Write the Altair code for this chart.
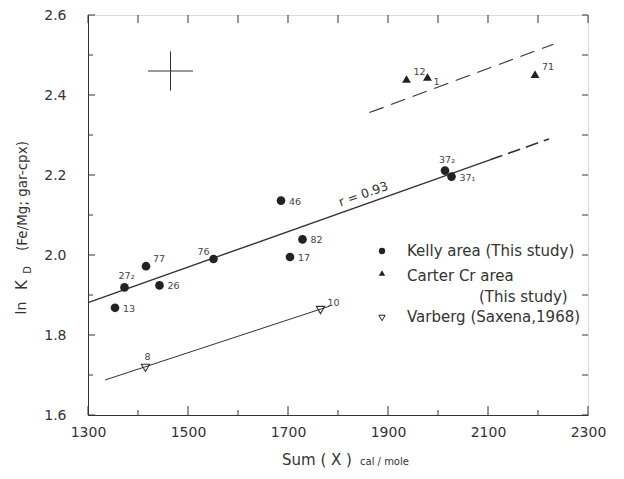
import altair as alt
import pandas as pd

# ---- data ----
kelly_x = [1354, 1373, 1416, 1443, 1551, 1686, 1729, 1704, 2014, 2027]
kelly_y = [1.868, 1.919, 1.972, 1.924, 1.990, 2.136, 2.039, 1.995, 2.211, 2.196]
kelly_lab = ["13", "27₂", "77", "26", "76", "46", "82", "17", "37₂", "37₁"]

carter_x = [1937, 1979, 2194]
carter_y = [2.440, 2.445, 2.452]
carter_lab = ["12", "1", "71"]

varberg_x = [1415, 1765]
varberg_y = [1.718, 1.8625]
varberg_lab = ["8", "10"]

fit_x = [1300, 2104]
fit_y = [1.881, 2.238]
fit_ext_x = [2104, 2222]
fit_ext_y = [2.238, 2.290]
carter_line_x = [1863, 2231]
carter_line_y = [2.356, 2.527]
varberg_line_x = [1334, 1784]
varberg_line_y = [1.6875, 1.8725]

err_x = [1465]
err_y = [2.46]
err_dx = 45
err_dy = 0.049

x_major = [1300, 1500, 1700, 1900, 2100, 2300]
x_minor = [1400, 1600, 1800, 2000, 2200]
y_major = [1.6, 1.8, 2.0, 2.2, 2.4, 2.6]
y_minor = [1.7, 1.9, 2.1, 2.3, 2.5]

lab_right = ["13", "26", "46", "82", "17", "37₁"]
lab_upright = ["77", "12", "71", "10"]
lab_above = ["27₂", "8", "37₂"]
lab_upleft = ["76"]
lab_downright = ["1"]

FONT = "DejaVu Sans"
INK = "#333333"
W, H = 500, 400

xscale = alt.Scale(domain=[1300, 2300], nice=False, zero=False)
yscale = alt.Scale(domain=[1.6, 2.6], nice=False, zero=False)
xaxis = alt.Axis(values=x_major, format="d", ticks=False, grid=False, domainColor=INK,
                 labelFontSize=14, labelColor=INK, labelFont=FONT, labelPadding=10,
                 labelFlush=False, labelOverlap=False, title="")
yaxis = alt.Axis(values=y_major, format=".1f", ticks=False, grid=False, domainColor=INK,
                 labelFontSize=14, labelColor=INK, labelFont=FONT, labelPadding=22,
                 labelFlush=False, labelOverlap=False, title="")
X = alt.X("x:Q", scale=xscale, axis=xaxis)
Y = alt.Y("y:Q", scale=yscale, axis=yaxis)

kelly = pd.DataFrame({"x": kelly_x, "y": kelly_y, "label": kelly_lab})
carter = pd.DataFrame({"x": carter_x, "y": carter_y, "label": carter_lab})
varberg = pd.DataFrame({"x": varberg_x, "y": varberg_y, "label": varberg_lab})
allpts = pd.concat([kelly, carter, varberg], ignore_index=True)

def seg(xs, ys):
    return pd.DataFrame({"x": xs, "y": ys})

layers = []

# lines
layers.append(alt.Chart(seg(fit_x, fit_y)).mark_line(color=INK, strokeWidth=1.4).encode(x=X, y=Y))
layers.append(alt.Chart(seg(fit_ext_x, fit_ext_y)).mark_line(color=INK, strokeWidth=1.6, strokeDash=[13, 6]).encode(x=X, y=Y))
layers.append(alt.Chart(seg(carter_line_x, carter_line_y)).mark_line(color=INK, strokeWidth=1.1, strokeDash=[15, 8]).encode(x=X, y=Y))
layers.append(alt.Chart(seg(varberg_line_x, varberg_line_y)).mark_line(color=INK, strokeWidth=1.0).encode(x=X, y=Y))

# error cross
err = pd.DataFrame({"x": err_x, "y": err_y})
layers.append(alt.Chart(err).transform_calculate(xa=f"datum.x - {err_dx}", xb=f"datum.x + {err_dx}")
              .mark_rule(color=INK, strokeWidth=1).encode(x=alt.X("xa:Q", scale=xscale, axis=xaxis), x2="xb:Q", y=Y))
layers.append(alt.Chart(err).transform_calculate(ya=f"datum.y - {err_dy}", yb=f"datum.y + {err_dy}")
              .mark_rule(color=INK, strokeWidth=1).encode(x=X, y=alt.Y("ya:Q", scale=yscale, axis=yaxis), y2="yb:Q"))

# points
layers.append(alt.Chart(kelly).mark_point(shape="circle", filled=True, color="#222", size=75, opacity=1).encode(x=X, y=Y))
layers.append(alt.Chart(carter).mark_point(shape="triangle-up", filled=True, color="#222", size=80, opacity=1).encode(x=X, y=Y))
layers.append(alt.Chart(varberg).mark_point(shape="triangle-down", filled=False, color=INK, size=70, strokeWidth=1.1, opacity=1).encode(x=X, y=Y))

# point labels
def labels(names, dx, dy, align="left"):
    return (alt.Chart(allpts).transform_filter(alt.FieldOneOfPredicate(field="label", oneOf=names))
            .mark_text(font=FONT, fontSize=9.5, color="#444", dx=dx, dy=dy, align=align, baseline="middle")
            .encode(x=X, y=Y, text="label:N"))

layers.append(labels(lab_right, 8, 1))
layers.append(labels(lab_upright, 7, -7))
layers.append(labels(lab_above, 2, -11, "center"))
layers.append(labels(lab_upleft, -4, -7, "right"))
layers.append(labels(lab_downright, 6, 5))

# r label
rlab = pd.DataFrame({"x": [1851], "y": [2.152], "t": ["r = 0.93"]})
layers.append(alt.Chart(rlab).mark_text(font=FONT, fontSize=12.5, color=INK, angle=340.5, align="center", baseline="middle")
              .encode(x=X, y=Y, text="t:N"))

# inward ticks
def xt(vals, y0, y1):
    return alt.Chart(pd.DataFrame({"x": vals})).mark_rule(color=INK, strokeWidth=1).encode(
        x=X, y=alt.value(y0), y2=alt.value(y1))

def yt(vals, x0, x1):
    return alt.Chart(pd.DataFrame({"y": vals})).mark_rule(color=INK, strokeWidth=1).encode(
        y=Y, x=alt.value(x0), x2=alt.value(x1))

layers += [xt(x_major, H, H - 9), xt(x_minor, H, H - 5), xt(x_major + x_minor, 0, 8),
           yt(y_major, 0, 7), yt(y_minor, 0, 5), yt(y_major + y_minor, W, W - 6)]

# legend (drawn)
def ltext(t, px, py, size=15):
    return alt.Chart(pd.DataFrame({"t": [t]})).mark_text(font=FONT, fontSize=size, color=INK, align="left", baseline="middle").encode(
        x=alt.value(px), y=alt.value(py), text="t:N")

def lsym(shape, filled, px, py):
    return alt.Chart(pd.DataFrame({"t": [shape]})).mark_point(shape=shape, filled=filled, color="#222", size=40, opacity=1, strokeWidth=1).encode(
        x=alt.value(px), y=alt.value(py))

layers += [lsym("circle", True, 294, 236), ltext("Kelly area  (This study)", 319, 236),
           lsym("triangle-up", True, 294, 258), ltext("Carter Cr  area", 319, 261),
           ltext("(This study)", 391, 282),
           lsym("triangle-down", False, 294, 303), ltext("Varberg  (Saxena,1968)", 319, 302)]

# axis titles (drawn)
def ttext(t, px, py, size, angle=0, align="left", baseline="alphabetic"):
    return alt.Chart(pd.DataFrame({"t": [t]})).mark_text(font=FONT, fontSize=size, color=INK, angle=angle, align=align, baseline=baseline).encode(
        x=alt.value(px), y=alt.value(py), text="t:N")

layers += [ttext("Sum  ( X )", 194, 450, 15), ttext("cal / mole", 272, 450, 10),
           ttext("ln", -66, 293, 14, 270, "center", "middle"),
           ttext("K", -66, 270, 15, 270, "center", "middle"),
           ttext("D", -60, 255, 10, 270, "center", "middle"),
           ttext("(Fe/Mg;  gar-cpx)", -65, 181, 13.5, 270, "center", "middle")]

chart = alt.layer(*layers).properties(
    width=W, height=H,
    autosize=alt.AutoSizeParams(type="none"),
    padding={"left": 80, "top": 7, "right": 28, "bottom": 56},
).configure_view(stroke=INK, strokeWidth=1).configure(background="white")

chart.save("out.html", embed_options={"renderer": "svg", "actions": False})
